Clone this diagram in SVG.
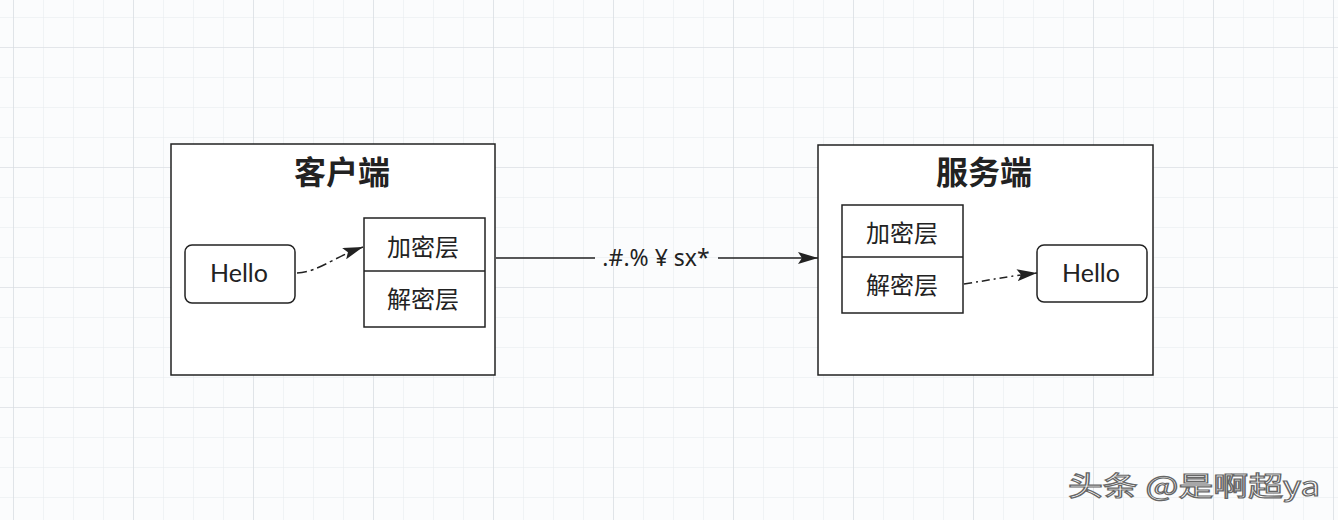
<svg xmlns="http://www.w3.org/2000/svg" width="1338" height="520" viewBox="0 0 1338 520">
<defs>
<pattern id="minor" x="13" y="17" width="30" height="30" patternUnits="userSpaceOnUse">
<path d="M0 0H30M0 0V30" fill="none" stroke="#e6e9ee" stroke-width="1"/>
</pattern>
<pattern id="major" x="13" y="47" width="120" height="120" patternUnits="userSpaceOnUse">
<path d="M0 0H120M0 0V120" fill="none" stroke="#d6dae0" stroke-width="1.2"/>
</pattern>
<marker id="arr2" viewBox="0 0 20 12" refX="20" refY="6" markerWidth="20" markerHeight="12" markerUnits="userSpaceOnUse" orient="auto">
<path d="M0 0L20 6L0 12L4 6Z" fill="#222"/>
</marker>
</defs>
<style>
.box{fill:#fff;stroke:#222;stroke-width:1.5}
.title{font-family:"Noto Sans CJK SC",sans-serif;font-size:32px;font-weight:bold;fill:#222;text-anchor:middle}
.cjk{font-family:"Noto Sans CJK SC",sans-serif;font-size:24px;fill:#222;text-anchor:middle}
.hello{font-family:Lato,"Noto Sans",sans-serif;font-size:25px;fill:#222;text-anchor:middle}
.lbl{font-family:"Noto Sans","Noto Sans CJK SC",sans-serif;font-size:23px;fill:#222;text-anchor:middle}
.conn{fill:none;stroke:#222;stroke-width:1.5}
</style>
<rect width="1338" height="520" fill="#fbfcfd"/>
<rect width="1338" height="520" fill="url(#minor)"/>
<rect width="1338" height="520" fill="url(#major)"/>

<g id="client">
<rect class="box" x="171" y="144" width="324" height="231"/>
<text class="title" x="342" y="184">客户端</text>
</g>
<g id="client-hello">
<rect class="box" x="185" y="245" width="110" height="58" rx="7"/>
<text class="hello" x="239" y="282">Hello</text>
</g>
<g id="client-layers">
<rect class="box" x="364" y="218" width="121" height="109"/>
<line x1="364" y1="271" x2="485" y2="271" stroke="#222" stroke-width="1.5"/>
<text class="cjk" x="423" y="256">加密层</text>
<text class="cjk" x="423" y="308">解密层</text>
</g>

<g id="server">
<rect class="box" x="818" y="145" width="335" height="230"/>
<text class="title" x="984" y="184">服务端</text>
</g>
<g id="server-layers">
<rect class="box" x="842" y="205" width="121" height="108"/>
<line x1="842" y1="257" x2="963" y2="257" stroke="#222" stroke-width="1.5"/>
<text class="cjk" x="902" y="242">加密层</text>
<text class="cjk" x="902" y="294">解密层</text>
</g>
<g id="server-hello">
<rect class="box" x="1037" y="245" width="110" height="57" rx="7"/>
<text class="hello" x="1091" y="282">Hello</text>
</g>

<g id="connectors">
<path class="conn" d="M297 273C318 272 332 258 363 247" stroke-dasharray="10 4 3 4" marker-end="url(#arr2)"/>
<path class="conn" d="M496 258H595"/>
<path class="conn" d="M718 258H818" marker-end="url(#arr2)"/>
<text class="lbl" x="656" y="266">.#.% ¥ sx*</text>
<path class="conn" d="M964 284C990 280 1010 276 1037 273" stroke-dasharray="8 4 2 4" marker-end="url(#arr2)"/>
</g>

<g id="watermark">
<text x="1068" y="496" font-family="Noto Sans CJK SC,sans-serif" font-size="27" fill="#fff" stroke="#666" stroke-width="1.2" textLength="252" lengthAdjust="spacingAndGlyphs">头条 @是啊超ya</text>
</g>
</svg>
